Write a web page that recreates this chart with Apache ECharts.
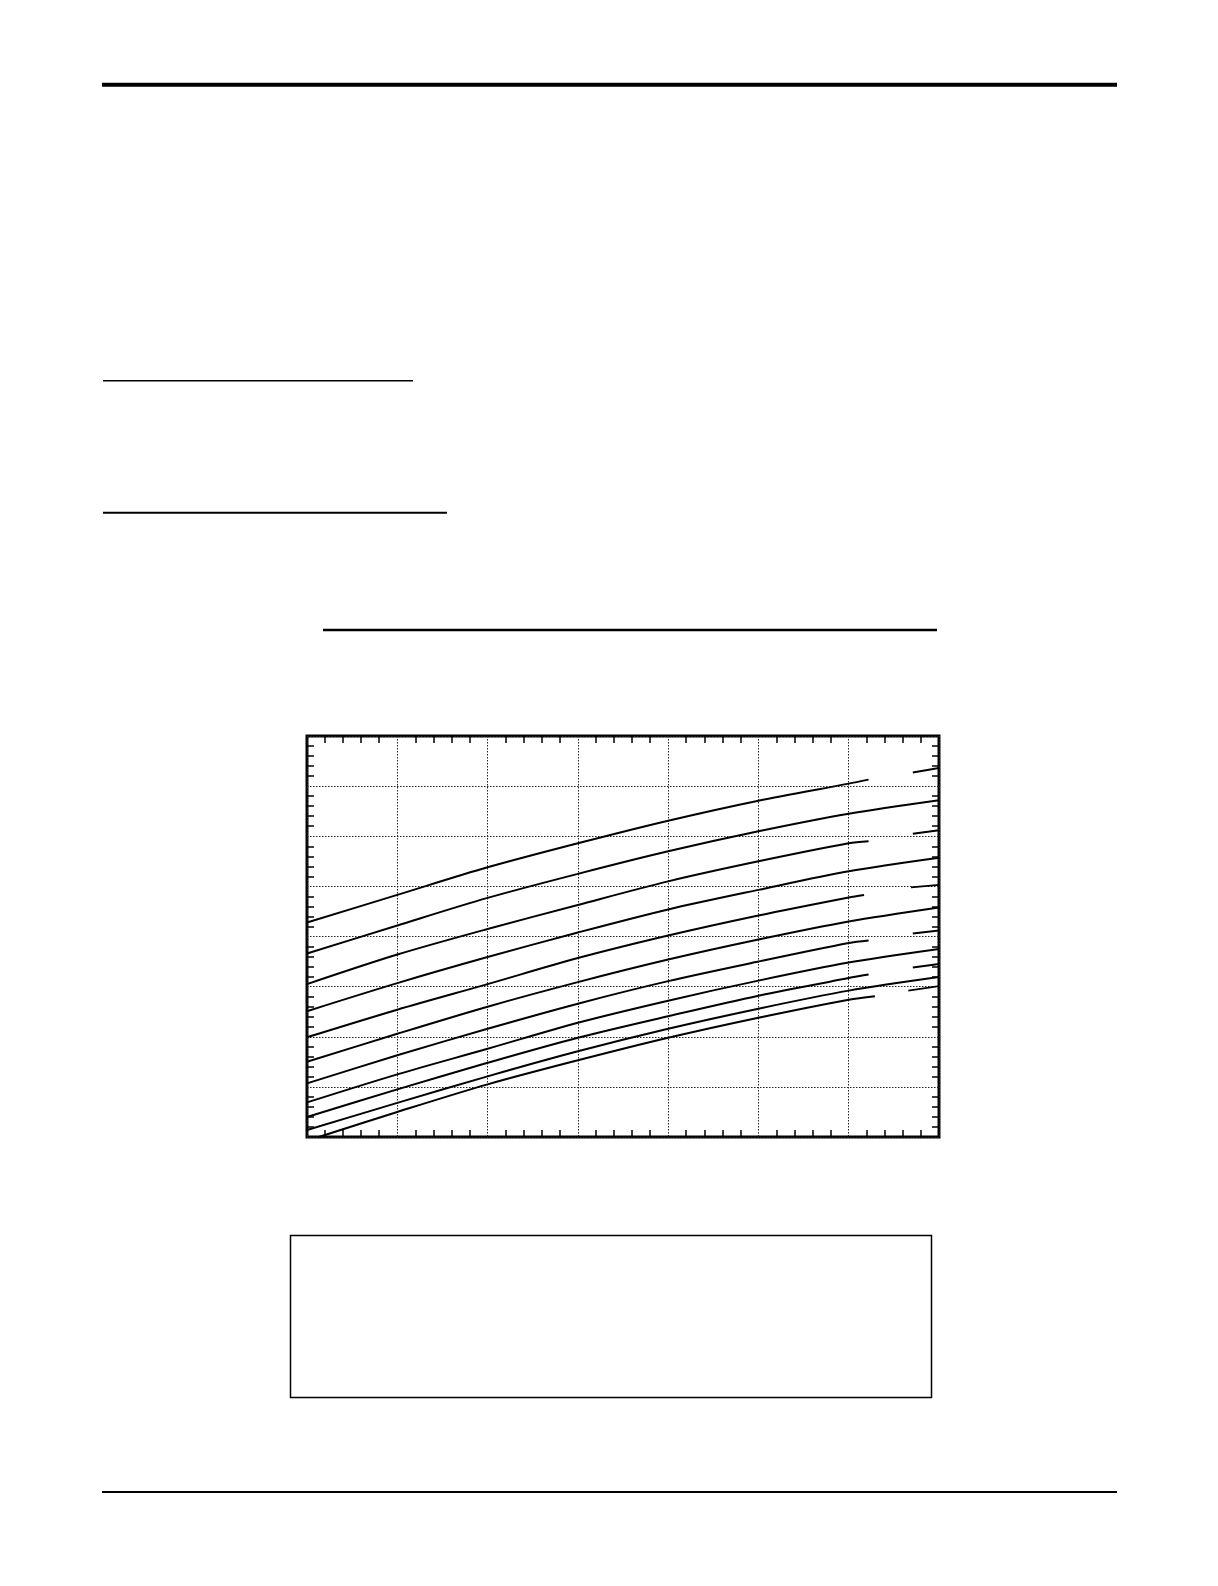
<!DOCTYPE html>
<html>
<head>
<meta charset="utf-8">
<script src="https://cdn.jsdelivr.net/npm/echarts@6/dist/echarts.min.js"></script>
<style>
  html, body { margin: 0; padding: 0; background: #fff; }
  #page { width: 1218px; height: 1586px; }
</style>
</head>
<body>
<div id="page"></div>
<script>
// axis ranges (no labels printed on the original)
const xMin = 0, xMax = 70, xStep = 10;
const yMin = 0, yMax = 80, yStep = 10;

// curves, top to bottom: [x, y]; '-' breaks the line (gap on the right)
const curveA = [[0, 42.8], [10, 48.3], [20, 53.8], [30, 58.6], [40, 63.1], [50, 67.1], [60, 70.5], [62.2, 71.3], [64.6, '-'], [67.1, 72.7], [70, 73.6]];
const curveB = [[0, 36.6], [10, 42.2], [20, 47.7], [30, 52.5], [40, 57.0], [50, 61.0], [60, 64.5], [70, 67.2]];
const curveC = [[0, 30.5], [10, 36.4], [20, 41.5], [30, 46.3], [40, 51.0], [50, 55.0], [60, 58.6], [62.2, 59.0], [64.6, '-'], [67.1, 60.5], [70, 61.2]];
const curveD = [[0, 25.1], [10, 30.7], [20, 35.9], [30, 40.8], [40, 45.4], [50, 49.3], [60, 53.0], [70, 55.7]];
const curveE = [[0, 19.9], [10, 25.4], [20, 30.5], [30, 35.7], [40, 40.2], [50, 44.2], [60, 47.8], [61.7, 48.3], [64.3, '-'], [66.9, 49.8], [70, 50.3]];
const curveF = [[0, 15.0], [10, 20.6], [20, 26.0], [30, 30.9], [40, 35.4], [50, 39.4], [60, 43.0], [70, 45.8]];
const curveG = [[0, 10.7], [10, 16.3], [20, 21.6], [30, 26.6], [40, 31.1], [50, 35.0], [60, 38.7], [62.2, 39.2], [64.6, '-'], [67.1, 40.6], [70, 41.2]];
const curveH = [[0, 6.9], [10, 12.5], [20, 17.6], [30, 22.8], [40, 27.2], [50, 31.2], [60, 34.8], [70, 37.5]];
const curveI = [[0, 4.0], [10, 9.5], [20, 14.8], [30, 19.8], [40, 24.1], [50, 28.2], [60, 31.7], [62.2, 32.4], [64.6, '-'], [67.1, 33.8], [70, 34.5]];
const curveJ = [[0, 1.4], [10, 6.8], [20, 12.1], [30, 17.1], [40, 21.6], [50, 25.6], [60, 29.2], [70, 31.9]];
const curveK = [[1.3, 0], [10, 5.0], [20, 10.5], [30, 15.3], [40, 19.8], [50, 23.8], [60, 27.4], [62.9, 28.1], [64.8, '-'], [66.6, 29.2], [70, 30.1]];

const curves = [curveA, curveB, curveC, curveD, curveE, curveF, curveG, curveH, curveI, curveJ, curveK];

(function () {
    let myechart = echarts.init(document.getElementById('page'), null, { renderer: 'canvas' });

    // rules of the page around the chart
    function rule(x1, y1, x2, y2, w) {
        return {
            type: 'line',
            shape: { x1: x1, y1: y1, x2: x2, y2: y2 },
            style: { stroke: '#000', lineWidth: w }
        };
    }

    // the four sides share the same minor tick look
    let minor = { show: true, splitNumber: 5, length: 7, lineStyle: { color: '#000', width: 1.5 } };
    let dotted = { show: true, lineStyle: { color: '#222', width: 1, type: [1.5, 1.5] } };

    function xAxis(pos, grid) {
        return {
            type: 'value', position: pos, min: xMin, max: xMax, interval: xStep,
            // onZero off, else the top axis drops onto y = 0
            axisLine: { show: false, onZero: false },
            axisTick: { show: false, inside: true },
            minorTick: minor,
            axisLabel: { show: false },
            splitLine: grid ? dotted : { show: false }
        };
    }
    function yAxis(pos, grid) {
        return {
            type: 'value', position: pos, min: yMin, max: yMax, interval: yStep,
            axisLine: { show: false, onZero: false },
            axisTick: { show: false, inside: true },
            minorTick: minor,
            axisLabel: { show: false },
            splitLine: grid ? dotted : { show: false }
        };
    }

    var option = {
        backgroundColor: '#fff',
        animation: false,
        grid: {
            left: 307, top: 736, width: 632, height: 401,
            show: true,
            borderColor: '#000',
            borderWidth: 3
        },
        xAxis: [xAxis('bottom', true), xAxis('top', false)],
        yAxis: [yAxis('left', true), yAxis('right', false)],
        series: curves.map(function (c) {
            return {
                type: 'line',
                data: c,
                showSymbol: false,
                smooth: 0.3,
                connectNulls: false,
                lineStyle: { color: '#000', width: 2 },
                z: 3
            };
        }),
        graphic: [
            rule(102, 84.7, 1117, 84.7, 4),
            rule(103, 380.7, 413, 380.7, 1.6),
            rule(103, 512.7, 447, 512.7, 2),
            rule(323, 630, 937, 630, 2.3),
            {
                type: 'rect',
                shape: { x: 290.5, y: 1235.5, width: 641, height: 162 },
                style: { fill: 'none', stroke: '#000', lineWidth: 1.5 }
            },
            rule(102, 1492, 1117, 1492, 2)
        ]
    };

    myechart.setOption(option);
    window.addEventListener('resize', function () {
        myechart.resize();
    });
})();
</script>
</body>
</html>
